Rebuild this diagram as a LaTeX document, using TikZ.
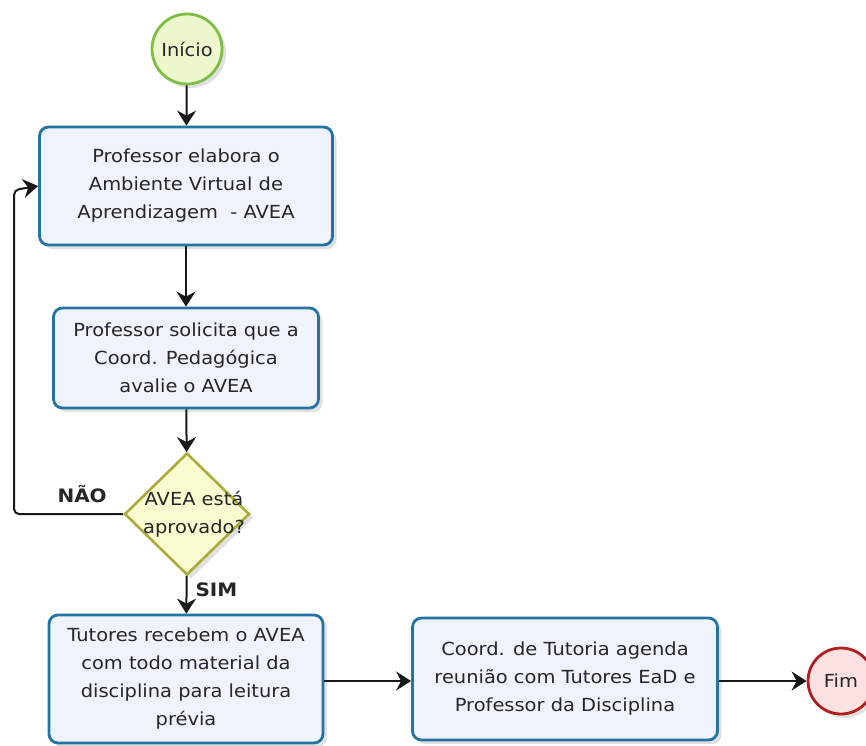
\documentclass[tikz,border=0pt]{standalone}
\usepackage{fontspec}
\setmainfont{DejaVu Sans}[FakeStretch=1.08]
\usetikzlibrary{shapes.geometric,arrows.meta,shadows}
\definecolor{boxline}{HTML}{2474A3}
\definecolor{boxfill}{HTML}{EFF3FC}
\definecolor{startline}{HTML}{7DBF45}
\definecolor{startfill}{HTML}{EDF8CF}
\definecolor{endline}{HTML}{B21F1F}
\definecolor{endfill}{HTML}{FBE1E1}
\definecolor{decline}{HTML}{ABAB3A}
\definecolor{decfill}{HTML}{FBFBD2}
\tikzset{
  x=1pt, y=-1pt,
  every node/.style={font=\fontsize{18}{28}\selectfont, text=black!85},
  sh/.style={drop shadow={shadow xshift=4pt, shadow yshift=-4pt, opacity=0.12, fill=black}},
  proc/.style={draw=boxline, fill=boxfill, line width=2.8pt, rounded corners=9pt, align=center, inner sep=0pt, sh},
  term/.style={circle, line width=2.8pt, inner sep=0pt, minimum size=66pt, sh},
  dec/.style={diamond, draw=decline, fill=decfill, line width=2.6pt, inner sep=0pt, minimum width=125pt, minimum height=122pt, sh},
  conn/.style={draw=black!90, line width=2pt, -{Stealth[length=15pt,width=19pt,inset=5pt]}},
  lbl/.style={font=\fontsize{18.5}{20}\selectfont\bfseries}
}
\begin{document}
\begin{tikzpicture}
\useasboundingbox (0,0) rectangle (866,745);
\fill[white] (0,0) rectangle (866,745);
\node[term, draw=startline, fill=startfill, minimum size=70pt] (start) at (187,49) {Início};
\node[proc, minimum width=293pt, minimum height=118pt] (b1) at (186,186) {Professor elabora o\\Ambiente Virtual de\\Aprendizagem\ \ - AVEA};
\node[proc, minimum width=265pt, minimum height=100pt] (b2) at (186,358) {Professor solicita que a\\Coord. Pedagógica\\avalie o AVEA};
\node[dec] (d) at (187,514) {};
\node[align=center, inner sep=0pt] (dt) at (194,514) {AVEA está\\aprovado?};
\node[proc, minimum width=274pt, minimum height=128pt] (b3) at (186,679) {Tutores recebem o AVEA\\com todo material da\\disciplina para leitura\\prévia};
\node[proc, minimum width=305pt, minimum height=122pt] (b4) at (565,679) {Coord. de Tutoria agenda\\reunião com Tutores EaD e\\Professor da Disciplina};
\node[term, draw=endline, fill=endfill] (fim) at (841,681) {Fim};
\coordinate (lc) at (14,190);
\draw[conn] (start) -- (b1);
\draw[conn] (b1) -- (b2);
\draw[conn] (b2) -- (d);
\draw[conn] (d) -- (b3);
\draw[conn] (b3.east |- 0,681) -- (b4.west |- 0,681);
\draw[conn] (b4.east |- 0,681) -- (fim);
\draw[conn, rounded corners=5pt] (d.west) -| (lc) -- (b1.west);
\node[lbl, anchor=west] (no) at (54,494) {NÃO};
\node[lbl, anchor=west] (yes) at (192,590) {SIM};
\end{tikzpicture}
\end{document}
